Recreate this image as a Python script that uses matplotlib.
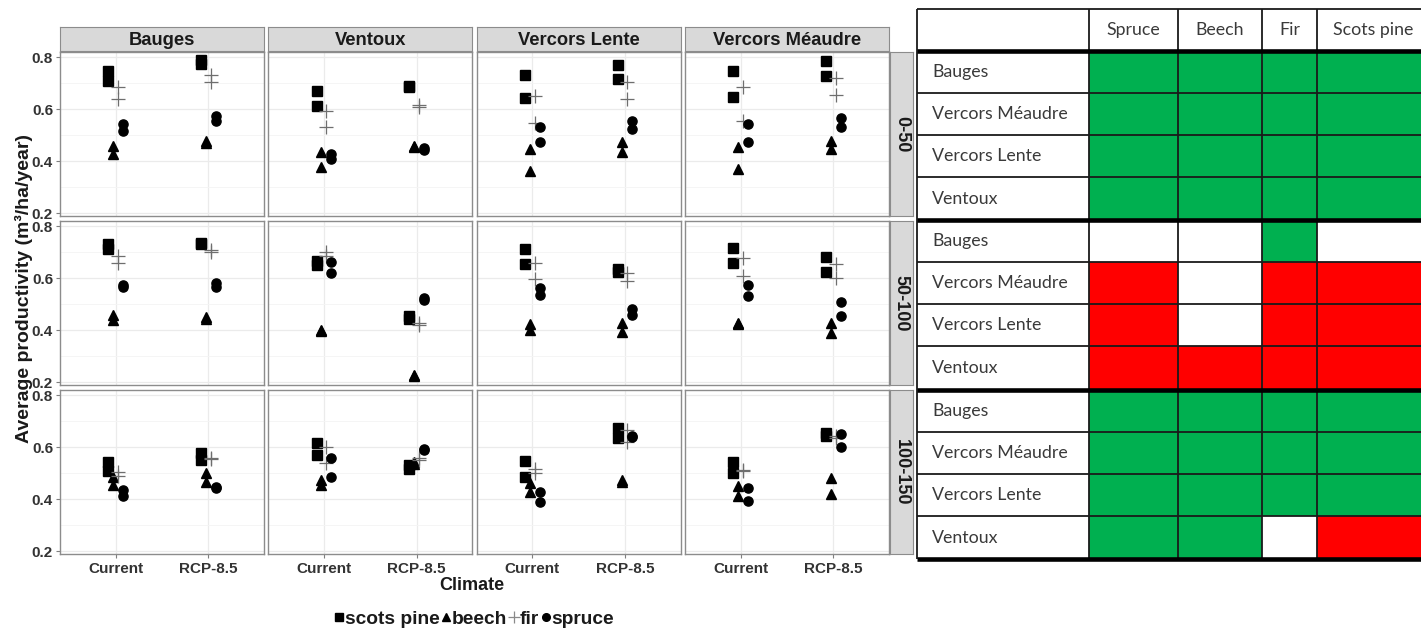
import matplotlib.pyplot as plt
from matplotlib.lines import Line2D
from matplotlib.patches import Rectangle

# ---- data ----
sites = ["Bauges", "Ventoux", "Vercors Lente", "Vercors Méaudre"]
depth_bands = ["0-50", "50-100", "100-150"]
climates = ["Current", "RCP-8.5"]
species = ["scots pine", "beech", "fir", "spruce"]

# [band][site][climate] -> two values (m3/ha/year)
scots_pine = [
    [[[0.746, 0.708], [0.790, 0.773]], [[0.670, 0.612], [0.690, 0.685]],
     [[0.730, 0.642], [0.770, 0.718]], [[0.746, 0.646], [0.785, 0.727]]],
    [[[0.730, 0.712], [0.735, 0.730]], [[0.665, 0.650], [0.455, 0.445]],
     [[0.712, 0.655], [0.635, 0.625]], [[0.716, 0.660], [0.680, 0.625]]],
    [[[0.545, 0.510], [0.578, 0.552]], [[0.617, 0.571], [0.533, 0.515]],
     [[0.548, 0.487], [0.674, 0.636]], [[0.544, 0.500], [0.655, 0.645]]],
]
beech = [
    [[[0.458, 0.427], [0.480, 0.472]], [[0.434, 0.380], [0.460, 0.455]],
     [[0.446, 0.362], [0.473, 0.436]], [[0.454, 0.369], [0.477, 0.446]]],
    [[[0.460, 0.440], [0.450, 0.445]], [[0.400, 0.398], [0.230, 0.225]],
     [[0.425, 0.400], [0.430, 0.395]], [[0.427, 0.423], [0.430, 0.390]]],
    [[[0.487, 0.456], [0.500, 0.467]], [[0.475, 0.456], [0.545, 0.535]],
     [[0.464, 0.430], [0.475, 0.465]], [[0.452, 0.414], [0.483, 0.420]]],
]
fir = [
    [[[0.685, 0.638], [0.730, 0.705]], [[0.593, 0.531], [0.615, 0.610]],
     [[0.650, 0.546], [0.703, 0.638]], [[0.685, 0.555], [0.720, 0.654]]],
    [[[0.685, 0.660], [0.710, 0.700]], [[0.700, 0.685], [0.430, 0.420]],
     [[0.660, 0.597], [0.620, 0.590]], [[0.678, 0.610], [0.655, 0.600]]],
    [[[0.505, 0.490], [0.560, 0.555]], [[0.600, 0.540], [0.560, 0.550]],
     [[0.515, 0.500], [0.666, 0.620]], [[0.512, 0.508], [0.645, 0.635]]],
]
spruce = [
    [[[0.542, 0.516], [0.573, 0.555]], [[0.430, 0.410], [0.450, 0.445]],
     [[0.530, 0.473], [0.555, 0.523]], [[0.542, 0.473], [0.565, 0.530]]],
    [[[0.575, 0.565], [0.580, 0.568]], [[0.663, 0.620], [0.525, 0.515]],
     [[0.563, 0.536], [0.483, 0.457]], [[0.575, 0.533], [0.510, 0.456]]],
    [[[0.437, 0.414], [0.448, 0.445]], [[0.560, 0.487], [0.595, 0.590]],
     [[0.430, 0.390], [0.645, 0.640]], [[0.445, 0.395], [0.651, 0.600]]],
]

# table on the right
table_species = ["Spruce", "Beech", "Fir", "Scots pine"]
table_sites = ["Bauges", "Vercors Méaudre", "Vercors Lente", "Ventoux"]
status_0_50 = [["g", "g", "g", "g"], ["g", "g", "g", "g"],
               ["g", "g", "g", "g"], ["g", "g", "g", "g"]]
status_50_100 = [["w", "w", "g", "w"], ["r", "w", "r", "r"],
                 ["r", "w", "r", "r"], ["r", "r", "r", "r"]]
status_100_150 = [["g", "g", "g", "g"], ["g", "g", "g", "g"],
                  ["g", "g", "g", "g"], ["g", "g", "w", "r"]]

# ---- figure ----
W, H = 1421, 630
fig = plt.figure(figsize=(W / 100, H / 100), dpi=100)
plt.rcParams['font.family'] = ['Liberation Sans', 'DejaVu Sans']


def frac(x0, y0, w, h):
    return [x0 / W, 1 - (y0 + h) / H, w / W, h / H]


series = [scots_pine, beech, fir, spruce]
offsets = [-0.08, -0.027, 0.027, 0.08]
styles = [dict(marker='s', ms=7.2, color='black', mec='black'),
          dict(marker='^', ms=7.5, color='black', mec='black'),
          dict(marker='+', ms=9.5, color='#6e6e6e', mew=0.9),
          dict(marker='o', ms=6.6, color='black', mec='black')]

col_x0, col_step, col_w = 60, 208.3, 204
row_y0, row_step, row_h = 52, 169, 164
tick_col = '#333333'
border_col = '#8c8c8c'

for b, band in enumerate(depth_bands):
    for s, site in enumerate(sites):
        ax = fig.add_axes(frac(col_x0 + s * col_step, row_y0 + b * row_step, col_w, row_h))
        for data, off, st in zip(series, offsets, styles):
            for c in range(len(climates)):
                vals = data[b][s][c]
                ax.plot([c + off] * len(vals), vals, linestyle='none', zorder=3, **st)
        ax.set_xlim(-0.6, 1.6)
        ax.set_ylim(0.19, 0.82)
        ax.set_xticks(range(len(climates)))
        ax.set_yticks([0.2, 0.4, 0.6, 0.8])
        ax.set_yticks([0.3, 0.5, 0.7], minor=True)
        ax.grid(True, which='major', color='#ebebeb', lw=0.9, zorder=0)
        ax.grid(True, which='minor', axis='y', color='#f4f4f4', lw=0.6, zorder=0)
        ax.set_axisbelow(True)
        for sp in ax.spines.values():
            sp.set_color(border_col)
            sp.set_linewidth(1.0)
        ax.tick_params(which='both', length=3, color='#7f7f7f', width=0.8)
        ax.tick_params(which='minor', length=0)
        if s == 0:
            ax.set_yticklabels(['0.2', '0.4', '0.6', '0.8'], fontsize=11,
                               fontweight='bold', color=tick_col)
            ax.tick_params(axis='y', pad=2)
        else:
            ax.set_yticklabels([])
            ax.tick_params(axis='y', length=0)
        if b == len(depth_bands) - 1:
            ax.set_xticklabels(climates, fontsize=11, fontweight='bold', color=tick_col)
            ax.tick_params(axis='x', pad=3)
        else:
            ax.set_xticklabels([])
            ax.tick_params(axis='x', length=0)

# top strips
for s, site in enumerate(sites):
    st = fig.add_axes(frac(col_x0 + s * col_step, 27, col_w, 24))
    st.set_facecolor('#d9d9d9')
    st.set_xticks([]); st.set_yticks([])
    for sp in st.spines.values():
        sp.set_color(border_col)
    st.text(0.5, 0.45, site, ha='center', va='center', fontsize=13.2,
            fontweight='bold', color='#1a1a1a', transform=st.transAxes)

# right strips
for b, band in enumerate(depth_bands):
    st = fig.add_axes(frac(col_x0 + 3 * col_step + col_w + 1, row_y0 + b * row_step, 23, row_h))
    st.set_facecolor('#d9d9d9')
    st.set_xticks([]); st.set_yticks([])
    for sp in st.spines.values():
        sp.set_color(border_col)
    st.text(0.5, 0.5, band, ha='center', va='center', rotation=-90, fontsize=13,
            fontweight='bold', color='#1a1a1a', transform=st.transAxes)

fig.text(24 / W, 1 - 289 / H, "Average productivity (m³/ha/year)", rotation=90,
         ha='center', va='center', fontsize=14, fontweight='bold', color='#1a1a1a')
fig.text(472 / W, 1 - 585 / H, "Climate", ha='center', va='center',
         fontsize=13, fontweight='bold', color='#1a1a1a')

handles = [Line2D([], [], linestyle='none', marker='s', ms=5.5, color='black'),
           Line2D([], [], linestyle='none', marker='^', ms=6, color='black'),
           Line2D([], [], linestyle='none', marker='+', ms=9, color='#8a8a8a', mew=0.9),
           Line2D([], [], linestyle='none', marker='o', ms=5.5, color='black')]
fig.legend(handles, species, loc='center', bbox_to_anchor=(474 / W, 1 - 619 / H),
           ncol=4, frameon=False, handlelength=0.5, handletextpad=0.05,
           columnspacing=0.1, prop=dict(size=13.8, weight='bold'),
           labelcolor='#1a1a1a', borderpad=0)

# ---- table ----
tab = fig.add_axes([0, 0, 1, 1])
tab.set_xlim(0, W)
tab.set_ylim(H, 0)
tab.axis('off')
tab.patch.set_visible(False)

col_edges = [917, 1089, 1178, 1262, 1317, 1430]
header_top, header_bot = 9, 50.5
group_tops = [50.5, 219.5, 389.5]
cell_h = 42.3
cell_colors = {"g": "#00b050", "r": "#ff0000", "w": "white"}
groups = [status_0_50, status_50_100, status_100_150]
text_font = ['Lato', 'DejaVu Sans']
text_col = '#3a3a3a'

for c, name in enumerate(table_species):
    xm = (col_edges[c + 1] + col_edges[c + 2]) / 2
    tab.text(xm, (header_top + header_bot) / 2, name, ha='center', va='center',
             fontsize=12.8, color=text_col, family=text_font)

for g, status in enumerate(groups):
    for r, site in enumerate(table_sites):
        y = group_tops[g] + r * cell_h
        tab.text(col_edges[0] + 15, y + cell_h / 2, site, ha='left', va='center',
                 fontsize=12.8, color=text_col, family=text_font)
        for c in range(len(table_species)):
            tab.add_patch(Rectangle((col_edges[c + 1], y), col_edges[c + 2] - col_edges[c + 1],
                                    cell_h, facecolor=cell_colors[status[r][c]],
                                    edgecolor='none', zorder=1))
        if r > 0:
            tab.hlines(y, col_edges[0], col_edges[-1], color='#1a1a1a', lw=1.3, zorder=2)

table_bottom = group_tops[-1] + 4 * cell_h
tab.hlines(header_top, col_edges[0], col_edges[-1], color='#1a1a1a', lw=1.3, zorder=2)
tab.vlines(col_edges[:-1], header_top, table_bottom, color='#1a1a1a', lw=1.3, zorder=2)
tab.hlines(group_tops + [table_bottom], col_edges[0], col_edges[-1], color='black',
           lw=3.3, zorder=3)

fig.savefig("out.png", dpi=100)
